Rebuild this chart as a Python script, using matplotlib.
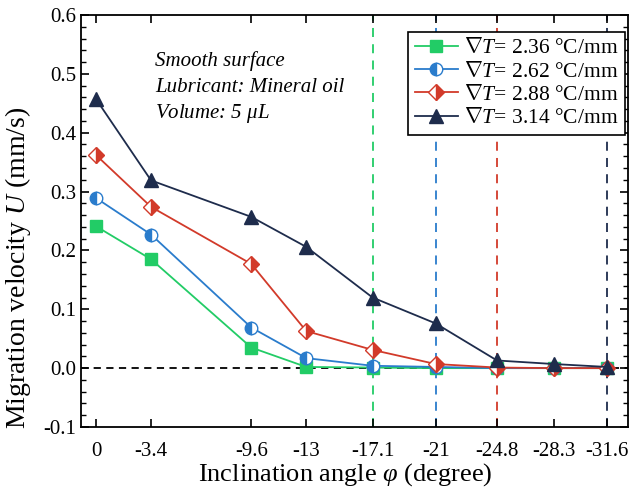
import numpy as np
import matplotlib
matplotlib.use('Agg')
import matplotlib.pyplot as plt
from matplotlib.ticker import MultipleLocator

plt.rcParams['font.family'] = ['Liberation Serif', 'DejaVu Serif']
plt.rcParams['mathtext.fontset'] = 'custom'
plt.rcParams['mathtext.rm'] = 'Liberation Serif'
plt.rcParams['mathtext.it'] = 'Liberation Serif:italic'
plt.rcParams['mathtext.default'] = 'rm'

# inclination angle (degree)
angle = [0, -3.4, -9.6, -13, -17.1, -21, -24.8, -28.3, -31.6]
angle_labels = ['0', '-3.4', '-9.6', '-13', '-17.1', '-21', '-24.8', '-28.3', '-31.6']

# migration velocity U (mm/s) for each temperature gradient
u_236 = [0.241, 0.185, 0.035, 0.002, 0.001, 0.0, 0.0, 0.0, 0.0]
u_262 = [0.289, 0.227, 0.069, 0.017, 0.004, 0.002, 0.0, 0.0, 0.0]
u_288 = [0.362, 0.274, 0.177, 0.063, 0.031, 0.007, 0.001, 0.0, 0.0]
u_314 = [0.457, 0.319, 0.257, 0.206, 0.12, 0.076, 0.013, 0.007, 0.002]

# angle where the droplet stops moving
stop_angle = [-17.1, -21, -24.8, -31.6]

grads = ['2.36', '2.62', '2.88', '3.14']
colors = ['#22cc66', '#2a7ccc', '#d23a2a', '#1e2c4c']

fig = plt.figure(figsize=(6.29, 4.95), dpi=100)
ax = fig.add_axes([0.1288, 0.1374, 0.8696, 0.8323])

ax.axhline(0, color='k', ls=(0, (4, 3)), lw=1.3, zorder=1)
for a, c in zip(stop_angle, colors):
    ax.axvline(a, color=c, ls=(0, (5, 4)), lw=1.3, zorder=1)

styles = [dict(marker='s', fillstyle='full'),
          dict(marker='o', fillstyle='left', markerfacecoloralt='white'),
          dict(marker='D', fillstyle='right', markerfacecoloralt='white'),
          dict(marker='^', fillstyle='full')]
msizes = [8, 9, 8, 10]

for u, g, c, st, ms in zip([u_236, u_262, u_288, u_314], grads, colors, styles, msizes):
    ax.plot(angle, u, color=c, lw=1.3, ms=ms, mfc=c, mec=c, mew=1.0,
            label='$\\nabla\\mathit{T}$= ' + g + ' °C/mm', zorder=3, **st)

ax.set_xlim(0.93, -32.9)
ax.set_ylim(-0.1, 0.6)
ax.set_xticks(angle)
ax.set_xticklabels(angle_labels)
ax.yaxis.set_major_locator(MultipleLocator(0.1))
ax.yaxis.set_minor_locator(MultipleLocator(0.02))
ax.set_yticks(np.arange(-0.1, 0.61, 0.1))
ax.set_yticklabels(['%.1f' % v for v in np.arange(-0.1, 0.61, 0.1)])
ax.tick_params(which='both', direction='in', top=True, right=True, labelsize=15)
ax.tick_params(which='major', length=6, width=1.2)
ax.tick_params(which='minor', length=3.5, width=1.0)
ax.tick_params(axis='x', pad=11)
for sp in ax.spines.values():
    sp.set_linewidth(1.3)

ax.set_xlabel('Inclination angle $\\mathit{\\varphi}$ (degree)', fontsize=19)
ax.set_ylabel('Migration velocity $\\mathit{U}$ (mm/s)', fontsize=20)
ax.xaxis.set_label_coords(0.483, -0.083)
ax.yaxis.set_label_coords(-0.088, 0.385)

ax.text(0.135, 0.888, 'Smooth surface', transform=ax.transAxes, fontsize=15,
        style='italic', va='center')
ax.text(0.135, 0.825, 'Lubricant: Mineral oil', transform=ax.transAxes, fontsize=15,
        style='italic', va='center')
ax.text(0.135, 0.762, 'Volume: 5 $\\mathit{\\mu}$L', transform=ax.transAxes, fontsize=15,
        style='italic', va='center')

leg = ax.legend(loc='upper right', bbox_to_anchor=(0.9945, 0.959), fontsize=15.5,
                frameon=True, fancybox=False, edgecolor='k', framealpha=1,
                handlelength=2.0, handletextpad=0.3, borderpad=0.3, labelspacing=0.15,
                borderaxespad=0)
leg.get_frame().set_linewidth(1.2)

fig.savefig('out.png', dpi=100)
